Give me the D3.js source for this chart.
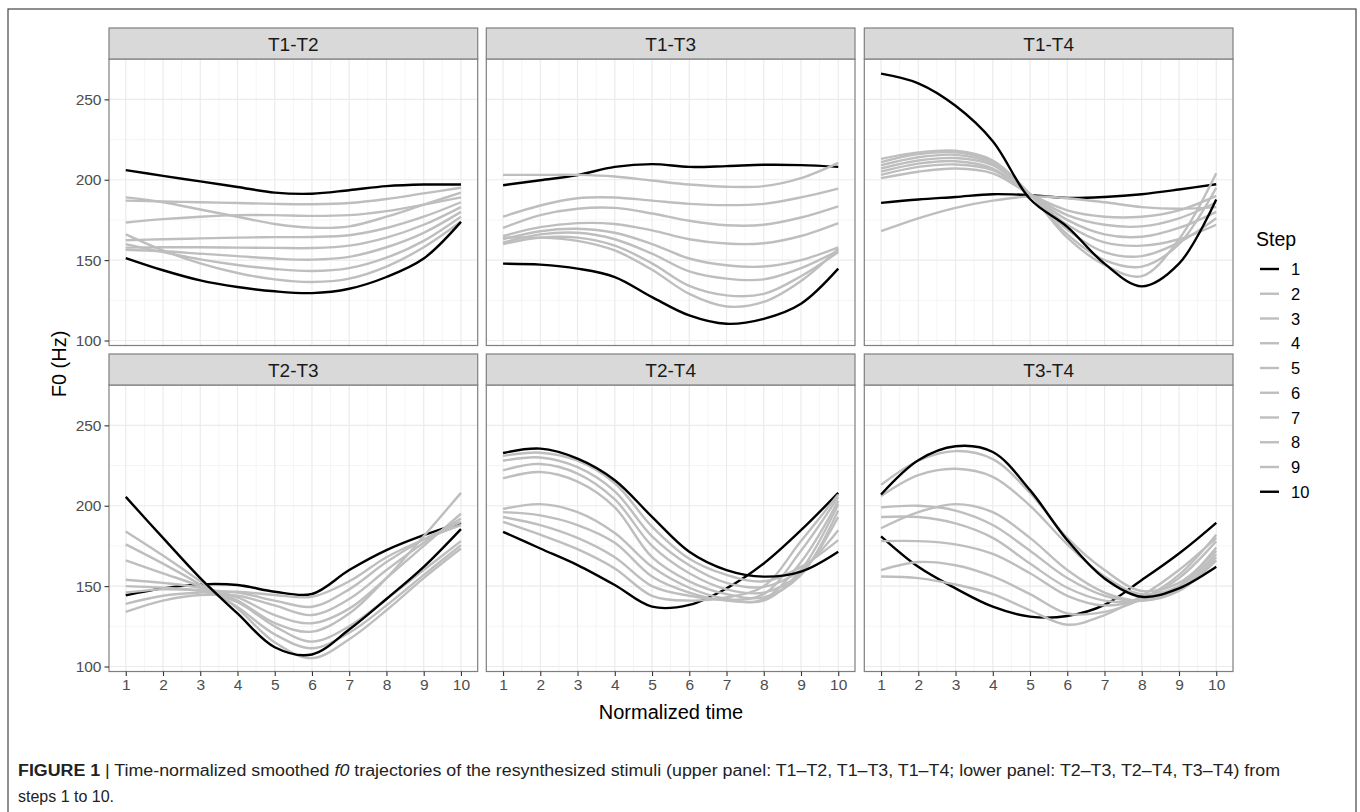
<!DOCTYPE html>
<html>
<head>
<meta charset="utf-8">
<script src="https://cdn.jsdelivr.net/npm/d3@7/dist/d3.min.js"></script>
<style>
  html, body { margin: 0; padding: 0; background: #fff; }
  svg { display: block; font-family: "Liberation Sans", Arial, sans-serif; }
</style>
</head>
<body>
<svg id="chart" width="1360" height="812"></svg>
<script>
// ---------------- data ----------------
const timePoints = [1, 2, 3, 4, 5, 6, 7, 8, 9, 10];
const stepLabels = ["1", "2", "3", "4", "5", "6", "7", "8", "9", "10"];
const panelNames = ["T1-T2", "T1-T3", "T1-T4", "T2-T3", "T2-T4", "T3-T4"];
const yTicks = [100, 150, 200, 250];
const xTicks = [1, 2, 3, 4, 5, 6, 7, 8, 9, 10];

// each array: steps 1..10, each with F0 (Hz) at normalized time 1..10
const T1T2 = [
  [206, 202.4, 199, 195.5, 192, 191.3, 193.5, 196, 197, 197],
  [187, 186.5, 186, 185.5, 185, 184.8, 185.5, 188, 191.5, 195],
  [189, 186, 181.5, 177, 172.5, 170.2, 171, 177, 184.5, 192],
  [173.4, 175.5, 177, 178, 178, 177.5, 178, 180.5, 184.5, 189],
  [162.4, 163, 163.5, 164, 164.3, 164.4, 165.5, 170, 177, 186],
  [157.8, 158, 158, 157.8, 157.6, 157.5, 159, 164, 172, 183],
  [156.5, 155.5, 154, 152.5, 151, 150.3, 152, 158, 167, 180],
  [160, 155, 150.5, 147, 144.5, 143.2, 145, 151.5, 162, 177],
  [166, 156, 148, 142, 138, 136.4, 138.5, 146, 158, 174],
  [151.3, 143.7, 137.4, 133.3, 130.6, 129.5, 132.2, 139.5, 151, 173.8]
];
const T1T3 = [
  [196.6, 199.7, 202.9, 208, 209.7, 208, 208.5, 209.3, 209.1, 208],
  [203, 203, 203, 202, 199.5, 197, 195.6, 196, 201, 210.5],
  [177, 184, 188.5, 189, 187, 185, 184.2, 185, 189, 194.5],
  [170, 178, 182, 182.5, 179, 174.5, 171.7, 172, 176.5, 183.5],
  [165, 170.5, 173, 172.5, 168.5, 163, 160.3, 160.5, 165, 173],
  [163, 168, 169.5, 167, 160, 151, 146.8, 146, 150, 158],
  [161, 166, 167, 163, 154, 143, 138.5, 138, 145, 156],
  [160, 164, 164, 159, 148, 134, 128.1, 129, 140, 155],
  [164, 164, 162, 156, 144, 129, 121.2, 124, 137, 157],
  [147.8, 147.2, 144.7, 139.5, 127, 115.6, 110.4, 113.5, 122.9, 144.7]
];
const T1T4 = [
  [185.6, 187.7, 189.3, 191, 190.4, 188.7, 189.3, 191, 193.9, 197.2],
  [168, 176, 182.5, 187, 189.5, 188.5, 186, 183, 182, 183],
  [201, 205, 207, 204, 191, 181, 177, 177, 181, 190],
  [203, 208, 209.5, 206, 191, 178, 172, 171, 176, 186],
  [205, 210, 211.5, 207, 191, 175, 166, 164.5, 170, 180],
  [207, 212, 213.5, 209, 191, 172, 161, 159, 163, 172],
  [209, 214, 215.5, 210, 191, 169, 155, 152.5, 161, 176],
  [211, 216, 217, 211, 191, 166, 150, 146, 160, 195],
  [213, 217, 218, 212, 191, 164, 147, 140, 163, 204],
  [266, 260, 246, 224, 188, 170.7, 147.8, 133.7, 147.8, 187.7]
];
const T2T3 = [
  [144.3, 148.6, 151.1, 150.7, 146.5, 145.1, 160, 172.4, 181.7, 189.4],
  [139, 144, 146, 146.5, 144.5, 143.4, 153, 168, 179, 188],
  [146, 148, 147.5, 146, 141, 137.2, 148, 165, 179, 190],
  [134, 141, 144.5, 144, 138, 132, 142, 160, 177, 192],
  [154, 152, 149, 143, 132, 126.9, 136, 155, 175, 195],
  [166, 158, 150, 141, 127, 121.7, 133, 155, 181, 208],
  [150, 149, 147, 140, 125, 115.5, 125, 142, 160, 178],
  [176, 164, 151, 137, 120, 111.4, 121, 138, 157, 175.5],
  [184, 169, 153, 136, 115, 105.2, 117, 135, 155, 173.4],
  [205.5, 180, 155, 133, 112, 107.5, 123, 142, 162, 185.5]
];
const T2T4 = [
  [183.8, 173.4, 163.1, 150.7, 137.2, 138.3, 148.6, 164.1, 184.8, 208],
  [190, 182, 173, 161, 144, 141, 143, 150, 178, 207],
  [193, 188, 180, 168, 150, 144, 141.5, 145, 172, 205.5],
  [196, 194, 188, 177, 156, 146, 141, 142, 165, 203],
  [198, 201, 196, 183, 162, 149, 142, 141, 160, 201],
  [217, 221, 215, 199, 168, 153, 145, 143, 157, 197],
  [222, 226, 220, 204, 175, 158, 148, 146, 158, 193],
  [228, 230, 224, 209, 181, 163, 152, 149.5, 160, 184.8],
  [231, 233, 228, 214, 187, 167, 157, 153, 162, 178.6],
  [232.8, 235.5, 229.3, 215.9, 193.1, 171.4, 160, 155.9, 159, 171.4]
];
const T3T4 = [
  [181, 162, 148.6, 137.2, 131, 131.4, 138.3, 153.8, 170.3, 189.4],
  [156, 155, 151, 145, 135, 126, 132, 144, 160, 180],
  [160, 165, 163, 156, 145, 133, 134, 142, 157, 182],
  [178, 178, 176, 170, 158, 144, 138, 142, 155, 178],
  [193, 193, 189, 180, 164, 149, 141, 141, 150, 174],
  [186, 196, 201, 196, 180, 160, 146, 141, 147, 166],
  [199, 200, 197, 188, 172, 155, 144, 141, 148, 168],
  [206, 219, 223, 218, 200, 176, 156, 145, 150, 170],
  [213, 228, 234, 229, 208, 180, 160, 147, 152, 172],
  [207, 228.3, 237, 233.4, 209.7, 178.6, 154.8, 143.4, 148.6, 162]
];
const panelData = [T1T2, T1T3, T1T4, T2T3, T2T4, T3T4];

// ---------------- layout ----------------
const svg = d3.select("#chart");
const colX = [109, 486.3, 864.3];
const panelW = 368.7;
const stripTop = [28, 354];
const stripH = 31;
const panelH = 286.5;
const BLACK = "#000000", GRAY = "#bebebe";
const stepColor = i => (i === 0 || i === 9) ? BLACK : GRAY;

svg.append("rect").attr("width", 1360).attr("height", 812).attr("fill", "#fff");
// figure frame
svg.append("rect").attr("x", 8).attr("y", 9).attr("width", 1348).attr("height", 830)
  .attr("fill", "none").attr("stroke", "#444").attr("stroke-width", 1.2);

const x = d3.scaleLinear().domain([0.55, 10.45]).range([0, panelW]);
const y = d3.scaleLinear().domain([96.9, 275.1]).range([panelH, 0]);

const line = d3.line()
  .x((d, i) => x(timePoints[i]))
  .y(d => y(d))
  .curve(d3.curveCatmullRom.alpha(0.5));

panelData.forEach((series, p) => {
  const col = p % 3, row = Math.floor(p / 3);
  const px = colX[col], sTop = stripTop[row], pTop = sTop + stripH;
  const g = svg.append("g").attr("transform", `translate(${px},${pTop})`);

  // minor grid
  const xMinor = d3.range(1.5, 10, 1);
  const yMinor = [125, 175, 225];
  g.selectAll(".vmin").data(xMinor).join("line")
    .attr("x1", d => x(d)).attr("x2", d => x(d)).attr("y1", 0).attr("y2", panelH)
    .attr("stroke", "#f2f2f2").attr("stroke-width", 0.8);
  g.selectAll(".hmin").data(yMinor).join("line")
    .attr("x1", 0).attr("x2", panelW).attr("y1", d => y(d)).attr("y2", d => y(d))
    .attr("stroke", "#f2f2f2").attr("stroke-width", 0.8);
  // major grid
  g.selectAll(".vmaj").data(xTicks).join("line")
    .attr("x1", d => x(d)).attr("x2", d => x(d)).attr("y1", 0).attr("y2", panelH)
    .attr("stroke", "#ebebeb").attr("stroke-width", 1.2);
  g.selectAll(".hmaj").data(yTicks).join("line")
    .attr("x1", 0).attr("x2", panelW).attr("y1", d => y(d)).attr("y2", d => y(d))
    .attr("stroke", "#ebebeb").attr("stroke-width", 1.2);

  // lines
  g.selectAll(".step").data(series).join("path")
    .attr("d", d => line(d))
    .attr("fill", "none")
    .attr("stroke", (d, i) => stepColor(i))
    .attr("stroke-width", 2.4)
    .attr("stroke-linejoin", "round");

  // panel border
  g.append("rect").attr("x", 0).attr("y", 0).attr("width", panelW).attr("height", panelH)
    .attr("fill", "none").attr("stroke", "#7f7f7f").attr("stroke-width", 1.2);

  // strip
  svg.append("rect").attr("x", px).attr("y", sTop).attr("width", panelW).attr("height", stripH)
    .attr("fill", "#d9d9d9").attr("stroke", "#7f7f7f").attr("stroke-width", 1.2);
  svg.append("text").attr("x", px + panelW / 2).attr("y", sTop + stripH / 2 + 7)
    .attr("text-anchor", "middle").attr("font-size", 19).attr("fill", "#1a1a1a")
    .text(panelNames[p]);

  // axes
  if (col === 0) {
    const ay = g.append("g").call(d3.axisLeft(y).tickValues(yTicks).tickSize(4.5).tickPadding(3));
    ay.select(".domain").remove();
    ay.selectAll(".tick line").attr("stroke", "#333").attr("stroke-width", 1.1);
    ay.selectAll(".tick text").attr("fill", "#4d4d4d").attr("font-size", 15.5)
      .attr("font-family", "Liberation Sans, Arial, sans-serif");
  }
  if (row === 1) {
    const ax = g.append("g").attr("transform", `translate(0,${panelH})`)
      .call(d3.axisBottom(x).tickValues(xTicks).tickSize(4.5).tickPadding(3).tickFormat(d3.format("d")));
    ax.select(".domain").remove();
    ax.selectAll(".tick line").attr("stroke", "#333").attr("stroke-width", 1.1);
    ax.selectAll(".tick text").attr("fill", "#4d4d4d").attr("font-size", 15.5)
      .attr("font-family", "Liberation Sans, Arial, sans-serif");
  }
});

// axis titles
svg.append("text").attr("x", colX[0] + (colX[2] + panelW - colX[0]) / 2).attr("y", 719)
  .attr("text-anchor", "middle").attr("font-size", 20).attr("fill", "#000").text("Normalized time");
svg.append("text").attr("transform", "translate(66,364) rotate(-90)")
  .attr("text-anchor", "middle").attr("font-size", 20).attr("fill", "#000").text("F0 (Hz)");

// legend
const lg = svg.append("g").attr("transform", "translate(1256,0)");
lg.append("text").attr("x", 0).attr("y", 246).attr("font-size", 19.5).attr("fill", "#000").text("Step");
const lgItems = lg.selectAll(".li").data(stepLabels).join("g")
  .attr("transform", (d, i) => `translate(0,${269 + i * 24.75})`);
lgItems.append("line").attr("x1", 4).attr("x2", 23).attr("y1", 0).attr("y2", 0)
  .attr("stroke", (d, i) => stepColor(i)).attr("stroke-width", 2.4);
lgItems.append("text").attr("x", 35).attr("y", 6).attr("font-size", 16.5).attr("fill", "#000").text(d => d);

// caption
const cap = svg.append("g").attr("font-family", "'Liberation Sans Narrow', 'Liberation Sans', Arial, sans-serif")
  .attr("font-size", 16).attr("fill", "#222");
const c1 = cap.append("text").attr("x", 18).attr("y", 776)
  .attr("textLength", 1262).attr("lengthAdjust", "spacingAndGlyphs");
c1.append("tspan").attr("font-weight", "bold").text("FIGURE 1");
c1.append("tspan").text(" | Time-normalized smoothed ");
c1.append("tspan").attr("font-style", "italic").text("f0");
c1.append("tspan").text(" trajectories of the resynthesized stimuli (upper panel: T1\u2013T2, T1\u2013T3, T1\u2013T4; lower panel: T2\u2013T3, T2\u2013T4, T3\u2013T4) from");
cap.append("text").attr("x", 18).attr("y", 802).text("steps 1 to 10.");
</script>
</body>
</html>
